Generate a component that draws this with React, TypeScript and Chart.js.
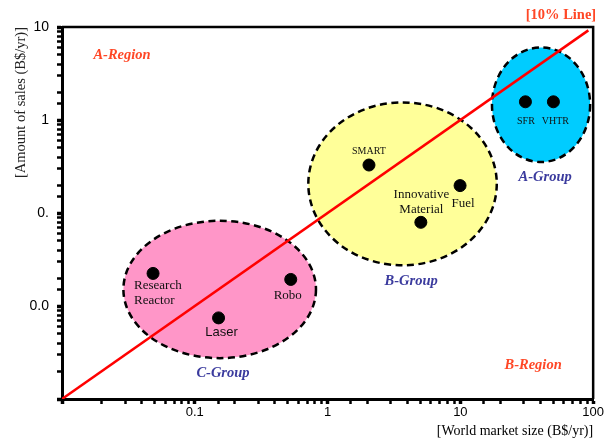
import React, { useEffect, useRef } from "react";
import { Chart, registerables } from "chart.js";

Chart.register(...registerables);

// ---- data ----
const itemNames = ["Research Reactor", "Laser", "Robo", "SMART", "Innovative Material", "Fuel", "SFR", "VHTR"];
const marketSize = [0.0485, 0.151, 0.528, 2.05, 5.04, 9.95, 30.9, 50.2];
const salesAmount = [0.0224, 0.00745, 0.0193, 0.328, 0.0794, 0.197, 1.57, 1.57];

const groupNames = ["C-Group", "B-Group", "A-Group"];
const groupXMin = [0.029, 0.716, 17.3];
const groupXMax = [0.818, 18.8, 94.9];
const groupYMin = [0.00275, 0.0274, 0.353];
const groupYMax = [0.0826, 1.546, 6.03];
const groupLabelX = [0.163, 4.26, 43.5];
const groupLabelY = [0.00191, 0.0184, 0.245];

const regionNames = ["A-Region", "B-Region"];
const regionX = [0.0283, 35.3];
const regionY = [4.98, 0.00233];

const lineX = [0.01, 92];
const lineY = [0.001, 9.2];

const xTickValues = [0.1, 1, 10, 100];
const xTickLabels = ["0.1", "1", "10", "100"];
const yTickValues = [10, 1, 0.1, 0.01];
const yTickLabels = ["10", "1", "0.", "0.0"];

// ---- styles ----
const groupColors = ["#ff96c8", "#ffff99", "#00ccff"];
const SERIF = "'Liberation Serif', 'Times New Roman', serif";
const SANS = "'Liberation Sans', Arial, sans-serif";
const REGION_COLOR = "#ff4726";
const GROUP_COLOR = "#3b3b9e";

// label placement relative to each point (pixels)
const itemLabelStyles = [
  { lines: ["Research", "Reactor"], dx: -19, dy: [12, 26.7], align: "left", font: `13px ${SERIF}` },
  { lines: ["Laser"], dx: 3, dy: [14.5], align: "center", font: `13px ${SANS}` },
  { lines: ["Robo"], dx: -3, dy: [16], align: "center", font: `13px ${SERIF}` },
  { lines: ["SMART"], dx: 0, dy: [-14], align: "center", font: `10px ${SERIF}` },
  { lines: ["Innovative", "Material"], dx: 0.5, dy: [-28, -13], align: "center", font: `13px ${SERIF}` },
  { lines: ["Fuel"], dx: 3, dy: [18], align: "center", font: `13px ${SERIF}` },
  { lines: ["SFR"], dx: 0.5, dy: [19.5], align: "center", font: `10px ${SERIF}` },
  { lines: ["VHTR"], dx: 2, dy: [19.5], align: "center", font: `10px ${SERIF}` },
];

function findLabel(v: number, values: number[], labels: string[]) {
  for (let i = 0; i < values.length; i++) {
    if (Math.abs(Math.log10(v) - Math.log10(values[i])) < 1e-6) return labels[i];
  }
  return "";
}
function isDecade(v: number) {
  const l = Math.log10(v);
  return Math.abs(l - Math.round(l)) < 1e-6;
}

const decorPlugin = {
  id: "decor",
  beforeDatasetsDraw(chart: any) {
    const { ctx } = chart;
    const xs = chart.scales.x;
    const ys = chart.scales.y;
    ctx.save();
    for (let i = 0; i < groupNames.length; i++) {
      const l = xs.getPixelForValue(groupXMin[i]);
      const r = xs.getPixelForValue(groupXMax[i]);
      const t = ys.getPixelForValue(groupYMax[i]);
      const b = ys.getPixelForValue(groupYMin[i]);
      ctx.beginPath();
      ctx.ellipse((l + r) / 2, (t + b) / 2, (r - l) / 2, (b - t) / 2, 0, 0, Math.PI * 2);
      ctx.fillStyle = groupColors[i];
      ctx.fill();
      ctx.setLineDash([7, 4.5]);
      ctx.lineWidth = 2.5;
      ctx.strokeStyle = "#000";
      ctx.stroke();
    }
    ctx.restore();
  },
  afterDatasetsDraw(chart: any) {
    const { ctx, chartArea } = chart;
    const xs = chart.scales.x;
    const ys = chart.scales.y;
    ctx.save();
    // top & right frame
    ctx.strokeStyle = "#000";
    ctx.lineWidth = 2.5;
    ctx.beginPath();
    ctx.moveTo(chartArea.left, chartArea.top);
    ctx.lineTo(chartArea.right, chartArea.top);
    ctx.lineTo(chartArea.right, chartArea.bottom);
    ctx.stroke();

    ctx.textBaseline = "middle";
    // item labels
    ctx.fillStyle = "#111";
    for (let i = 0; i < itemNames.length; i++) {
      const s = itemLabelStyles[i];
      const px = xs.getPixelForValue(marketSize[i]);
      const py = ys.getPixelForValue(salesAmount[i]);
      ctx.font = s.font;
      ctx.textAlign = s.align as CanvasTextAlign;
      s.lines.forEach((ln, k) => ctx.fillText(ln, px + s.dx, py + s.dy[k]));
    }
    // group labels
    ctx.font = `italic bold 14.5px ${SERIF}`;
    ctx.textAlign = "center";
    ctx.fillStyle = GROUP_COLOR;
    for (let i = 0; i < groupNames.length; i++) {
      ctx.fillText(groupNames[i], xs.getPixelForValue(groupLabelX[i]), ys.getPixelForValue(groupLabelY[i]));
    }
    // region labels
    ctx.fillStyle = REGION_COLOR;
    for (let i = 0; i < regionNames.length; i++) {
      ctx.fillText(regionNames[i], xs.getPixelForValue(regionX[i]), ys.getPixelForValue(regionY[i]));
    }
    // 10% line label
    ctx.font = `bold 14.5px ${SERIF}`;
    ctx.textAlign = "right";
    ctx.fillText("[10% Line]", chartArea.right + 3, chartArea.top - 12);
    ctx.restore();
  },
};

export default function App() {
  const ref = useRef<HTMLCanvasElement>(null);
  useEffect(() => {
    if (!ref.current) return;
    const chart = new Chart(ref.current, {
      type: "scatter",
      data: {
        datasets: [
          {
            label: "Items",
            data: marketSize.map((x, i) => ({ x, y: salesAmount[i] })),
            pointRadius: 6,
            pointHoverRadius: 6,
            pointBackgroundColor: "#000",
            pointBorderColor: "#000",
            showLine: false,
          },
          {
            label: "10% Line",
            type: "line",
            data: lineX.map((x, i) => ({ x, y: lineY[i] })),
            borderColor: "#ff0000",
            borderWidth: 2.5,
            pointRadius: 0,
            fill: false,
          } as any,
        ],
      },
      options: {
        responsive: false,
        animation: false,
        layout: { padding: { top: 27, right: 11, left: 0, bottom: 0 } },
        plugins: { legend: { display: false }, tooltip: { enabled: false } },
        scales: {
          x: {
            type: "logarithmic",
            min: 0.01,
            max: 100,
            border: { display: true, color: "#000", width: 3 },
            grid: {
              drawOnChartArea: false,
              drawTicks: true,
              tickLength: 5,
              tickColor: "#000",
              tickWidth: (c: any) => (c.tick && isDecade(c.tick.value) ? 3.5 : 2.5),
            },
            ticks: {
              autoSkip: false,
              maxRotation: 0,
              padding: 1,
              color: "#000",
              font: { family: SANS, size: 13 },
              callback: (v: any) => findLabel(Number(v), xTickValues, xTickLabels),
            },
            title: {
              display: true,
              text: "[World market size (B$/yr)]",
              align: "end",
              color: "#000",
              font: { family: SERIF, size: 14 },
              padding: { top: 0, bottom: 2 },
            },
            afterFit: (s: any) => {
              s.height = 43;
            },
          },
          y: {
            type: "logarithmic",
            min: 0.001,
            max: 10,
            border: { display: true, color: "#000", width: 3 },
            grid: {
              drawOnChartArea: false,
              drawTicks: true,
              tickLength: 5,
              tickColor: "#000",
              tickWidth: (c: any) => (c.tick && isDecade(c.tick.value) ? 3.5 : 2.5),
            },
            ticks: {
              autoSkip: false,
              padding: 8,
              color: "#000",
              font: { family: SANS, size: 14 },
              callback: (v: any) => findLabel(Number(v), yTickValues, yTickLabels),
            },
            title: {
              display: true,
              text: "[Amount of sales (B$/yr)]",
              align: "end",
              color: "#222",
              font: { family: SERIF, size: 14.5 },
              padding: { top: 12, bottom: 0 },
            },
            afterFit: (s: any) => {
              s.width = 62;
            },
          },
        },
      },
      plugins: [decorPlugin],
    });
    return () => chart.destroy();
  }, []);
  return (
    <div style={{ position: "fixed", left: 0, top: 0, width: 605, height: 442, background: "#fff" }}>
      <canvas ref={ref} width={605} height={442} style={{ display: "block" }} />
    </div>
  );
}
